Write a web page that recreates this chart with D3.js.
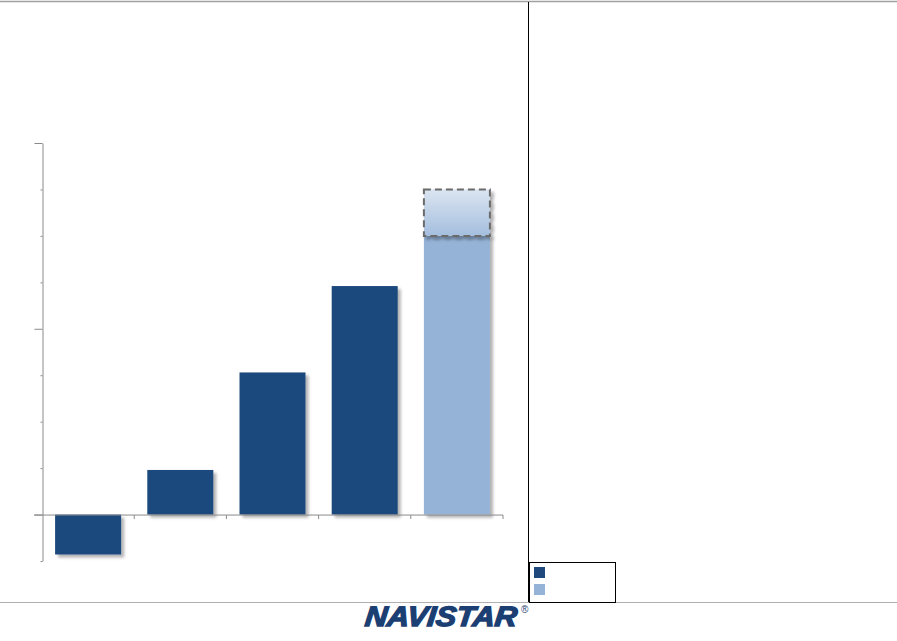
<!DOCTYPE html>
<html>
<head>
<meta charset="utf-8">
<script src="https://cdn.jsdelivr.net/npm/d3@7"></script>
<style>
  html, body { margin: 0; padding: 0; background: #fff; }
  svg { display: block; }
</style>
</head>
<body>
<svg width="897" height="641"></svg>
<script>
// values (labels are blank in the source)
var categories = ["c1", "c2", "c3", "c4", "c5"];
var actual = [-43, 48, 153, 246, 300];
var seriesKind = ["dark", "dark", "dark", "dark", "light"];
var rangeTop = [null, null, null, null, 350];
var majorTicks = [0, 200, 400];
var minorTicks = [-50, 50, 100, 150, 250, 300, 350];

var svg = d3.select("svg"),
    width = +svg.attr("width"),
    height = +svg.attr("height");

var dark = "#1f497d", light = "#95b3d7";

var defs = svg.append("defs");
var shadow = defs.append("filter").attr("id", "shadow")
  .attr("x", "-10%").attr("y", "-10%").attr("width", "130%").attr("height", "130%");
shadow.append("feDropShadow")
  .attr("dx", 3).attr("dy", 3).attr("stdDeviation", 1.6)
  .attr("flood-color", "#000").attr("flood-opacity", 0.3);

var grad = defs.append("linearGradient").attr("id", "fade")
  .attr("x1", 0).attr("y1", 0).attr("x2", 0).attr("y2", 1);
grad.append("stop").attr("offset", "0%").attr("stop-color", "#dbe5f1");
grad.append("stop").attr("offset", "100%").attr("stop-color", "#a4bede");

// frame lines
svg.append("line").attr("x1", 0).attr("x2", width).attr("y1", 1.5).attr("y2", 1.5)
  .attr("stroke", "#a0a0a0").attr("stroke-width", 1.5);
svg.append("line").attr("x1", 0).attr("x2", width).attr("y1", 602.5).attr("y2", 602.5)
  .attr("stroke", "#b0b0b0").attr("stroke-width", 1);
svg.append("line").attr("x1", 528.5).attr("x2", 528.5).attr("y1", 2).attr("y2", 602)
  .attr("stroke", "#000").attr("stroke-width", 1);

var x = d3.scaleBand()
  .domain(categories)
  .range([42, 503])
  .paddingInner(0.284)
  .paddingOuter(0.142);

var y = d3.scaleLinear()
  .domain([-50, 400])
  .range([561, 143]);

// y axis
svg.append("g").attr("transform", "translate(42.5,0)")
  .call(d3.axisLeft(y).tickValues(majorTicks).tickSize(8).tickSizeOuter(0).tickFormat(""));
svg.append("g").attr("transform", "translate(42.5,0)")
  .call(d3.axisLeft(y).tickValues(minorTicks).tickSize(2).tickFormat(""))
  .select(".domain").remove();
svg.selectAll(".tick line, .domain").attr("stroke", "#8a8a8a");

// bars
var bars = svg.append("g");
bars.selectAll("rect.bar")
  .data(categories)
  .enter().append("rect")
  .attr("class", "bar")
  .attr("x", function(d) { return x(d); })
  .attr("width", x.bandwidth())
  .attr("y", function(d, i) { return y(Math.max(0, actual[i])); })
  .attr("height", function(d, i) { return Math.abs(y(actual[i]) - y(0)); })
  .attr("fill", function(d, i) { return seriesKind[i] == "dark" ? dark : light; })
  .attr("filter", "url(#shadow)");

// range box on top of last bar
bars.selectAll("rect.range")
  .data(categories.filter(function(d, i) { return rangeTop[i] != null; }))
  .enter().append("rect")
  .attr("class", "range")
  .attr("x", function(d) { return x(d); })
  .attr("width", x.bandwidth())
  .attr("y", function(d) { return y(rangeTop[categories.indexOf(d)]); })
  .attr("height", function(d) {
    var i = categories.indexOf(d);
    return y(actual[i]) - y(rangeTop[i]);
  })
  .attr("fill", "url(#fade)")
  .attr("stroke", "#6b6b6b")
  .attr("stroke-width", 2)
  .attr("stroke-dasharray", "7,4")
  .attr("filter", "url(#shadow)");

// x axis
var xAxis = svg.append("g").attr("transform", "translate(0," + (y(0) + 0.5) + ")");
xAxis.append("line").attr("x1", 34).attr("x2", 503)
  .attr("stroke", "#8a8a8a");
xAxis.selectAll("line.tk")
  .data(categories)
  .enter().append("line")
  .attr("class", "tk")
  .attr("x1", function(d) { return x(d) + x.bandwidth() + x.step() * x.paddingInner() / 2; })
  .attr("x2", function(d) { return x(d) + x.bandwidth() + x.step() * x.paddingInner() / 2; })
  .attr("y1", 0).attr("y2", 4)
  .attr("stroke", "#8a8a8a");

// legend
var legend = svg.append("g");
legend.append("rect").attr("x", 529.5).attr("y", 562.5).attr("width", 86).attr("height", 40)
  .attr("fill", "#fff").attr("stroke", "#000");
legend.selectAll("rect.sw")
  .data([dark, light])
  .enter().append("rect")
  .attr("class", "sw")
  .attr("x", 534).attr("y", function(d, i) { return 567 + i * 17; })
  .attr("width", 11).attr("height", 11)
  .attr("fill", function(d) { return d; });

// logo
var logo = svg.append("text")
  .attr("x", 364).attr("y", 626)
  .attr("font-family", "Liberation Sans, Arial, sans-serif")
  .attr("font-weight", "bold").attr("font-style", "italic")
  .attr("font-size", 28)
  .attr("fill", "#1c3f73")
  .attr("stroke", "#1c3f73").attr("stroke-width", 1.4)
  .attr("transform", "skewX(-6) translate(66,0)");
logo.append("tspan").text("NAVISTAR")
  .attr("textLength", 152).attr("lengthAdjust", "spacingAndGlyphs");
svg.append("text").text("®")
  .attr("x", 521).attr("y", 613)
  .attr("font-family", "Liberation Sans, Arial, sans-serif")
  .attr("font-size", 10).attr("fill", "#1c3f73");
</script>
</body>
</html>
